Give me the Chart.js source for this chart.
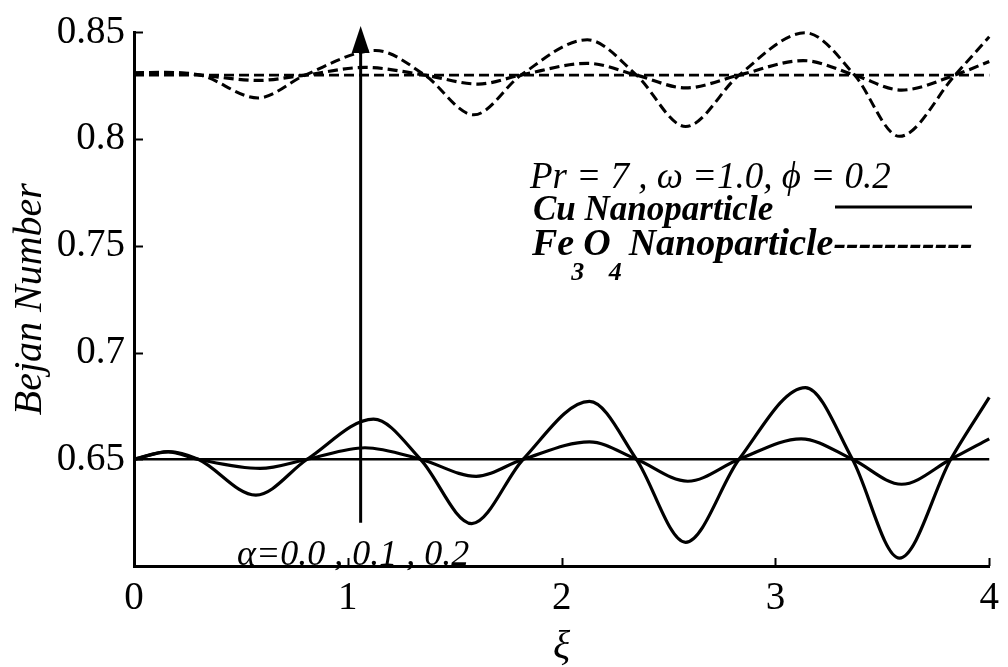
<!DOCTYPE html>
<html>
<head>
<meta charset="utf-8">
<script src="https://cdn.jsdelivr.net/npm/chart.js@4.4.1/dist/chart.umd.min.js"></script>
<style>
  html, body { margin: 0; padding: 0; background: #fff; }
  #wrap { width: 1008px; height: 667px; position: relative; }
</style>
</head>
<body>
<div id="wrap"><canvas id="c" width="1008" height="667"></canvas></div>
<script>
// Axis ticks
const xTickValues = [0, 1, 2, 3, 4];
const yTickValues = [0.65, 0.7, 0.75, 0.8, 0.85];

// Cu nanoparticle, alpha = 0.0 / 0.1 / 0.2  (xi, Bejan number)
const cuXiA0 = [0, 4];
const cuBeA0 = [0.65, 0.65];
const cuXiA1 = [0, 0.16, 0.30, 0.59, 0.81, 1.08, 1.34, 1.60, 1.82, 2.13, 2.35, 2.59, 2.83, 3.12, 3.36, 3.59, 3.82, 4.0];
const cuBeA1 = [0.650, 0.6535, 0.650, 0.6457, 0.650, 0.6554, 0.650, 0.6420, 0.650, 0.6582, 0.650, 0.6397, 0.650, 0.6596, 0.650, 0.6383, 0.650, 0.6596];
const cuXiA2 = [0, 0.16, 0.30, 0.57, 0.81, 1.12, 1.34, 1.58, 1.82, 2.13, 2.35, 2.58, 2.83, 3.14, 3.36, 3.58, 3.82, 4.0];
const cuBeA2 = [0.650, 0.6536, 0.650, 0.6332, 0.650, 0.6688, 0.650, 0.6199, 0.650, 0.6771, 0.650, 0.6111, 0.650, 0.6836, 0.650, 0.6037, 0.650, 0.6790];

// Fe3O4 nanoparticle, alpha = 0.0 / 0.1 / 0.2
const feXiA0 = [0, 4];
const feBeA0 = [0.83, 0.83];
const feXiA1 = [0, 0.15, 0.31, 0.58, 0.80, 1.08, 1.36, 1.61, 1.81, 2.12, 2.35, 2.58, 2.83, 3.13, 3.37, 3.59, 3.84, 4.0];
const feBeA1 = [0.831, 0.8313, 0.830, 0.8275, 0.830, 0.8336, 0.830, 0.8258, 0.830, 0.8355, 0.830, 0.8240, 0.830, 0.8368, 0.830, 0.8230, 0.830, 0.8364];
const feXiA2 = [0, 0.15, 0.31, 0.58, 0.80, 1.13, 1.36, 1.59, 1.81, 2.12, 2.35, 2.58, 2.83, 3.14, 3.37, 3.58, 3.84, 4.0];
const feBeA2 = [0.831, 0.8312, 0.830, 0.8193, 0.830, 0.8415, 0.830, 0.8114, 0.830, 0.8465, 0.830, 0.8059, 0.830, 0.8498, 0.830, 0.8013, 0.830, 0.8480];

// Direction arrow for increasing alpha (xi, from, to)
const arrowXi = 1.06;
const arrowFrom = 0.6203;
const arrowTo = 0.853;

const SERIF = '"Liberation Serif", "Times New Roman", serif';

const pts = (xs, ys) => xs.map((x, i) => ({ x: x, y: ys[i] }));

const solid = (xs, ys, w) => ({
  data: pts(xs, ys), borderColor: '#000', borderWidth: w, pointRadius: 0,
  cubicInterpolationMode: 'monotone', fill: false, clip: false
});
const dashed = (xs, ys, w) => ({
  data: pts(xs, ys), borderColor: '#000', borderWidth: w, pointRadius: 0,
  borderDash: [10, 5], cubicInterpolationMode: 'monotone', fill: false, clip: false
});

const overlay = {
  id: 'overlay',
  afterDraw(chart) {
    const { ctx, scales: { x, y } } = chart;
    ctx.save();
    ctx.strokeStyle = '#000';
    ctx.fillStyle = '#000';

    // inward tick marks
    ctx.lineWidth = 2;
    yTickValues.forEach(v => {
      const py = Math.round(y.getPixelForValue(v)) + 0.5;
      ctx.beginPath(); ctx.moveTo(x.left, py); ctx.lineTo(x.left + 9, py); ctx.stroke();
    });
    xTickValues.forEach(v => {
      const px = Math.round(x.getPixelForValue(v)) + 0.5;
      ctx.beginPath(); ctx.moveTo(px, y.bottom); ctx.lineTo(px, y.bottom - 8); ctx.stroke();
    });

    // arrow
    const ax = x.getPixelForValue(arrowXi);
    const ay0 = y.getPixelForValue(arrowFrom);
    const ay1 = y.getPixelForValue(arrowTo);
    ctx.lineWidth = 3;
    ctx.beginPath(); ctx.moveTo(ax, ay0); ctx.lineTo(ax, ay1 + 20); ctx.stroke();
    ctx.beginPath();
    ctx.moveTo(ax, ay1);
    ctx.lineTo(ax - 9, ay1 + 27);
    ctx.lineTo(ax + 9, ay1 + 27);
    ctx.closePath(); ctx.fill();

    // parameter text and legend
    ctx.textAlign = 'left';
    ctx.textBaseline = 'alphabetic';
    ctx.font = 'italic 37px ' + SERIF;
    ctx.fillText('Pr = 7 , \u03C9 =1.0, \u03D5 = 0.2', 530, 188);

    ctx.font = 'italic bold 35px ' + SERIF;
    ctx.fillText('Cu Nanoparticle', 533, 220);
    ctx.lineWidth = 3;
    ctx.beginPath(); ctx.moveTo(835, 207); ctx.lineTo(972, 207); ctx.stroke();

    let cx = 532;
    const big = 'italic bold 38px ' + SERIF;
    const sub = 'italic bold 26px ' + SERIF;
    ctx.font = big; ctx.fillText('Fe', cx, 255); cx += ctx.measureText('Fe').width - 3;
    ctx.font = sub; ctx.fillText('3', cx, 280); cx += ctx.measureText('3').width - 1;
    ctx.font = big; ctx.fillText('O', cx, 255); cx += ctx.measureText('O').width - 2;
    ctx.font = sub; ctx.fillText('4', cx, 280); cx += ctx.measureText('4').width;
    ctx.font = big; ctx.fillText('Nanoparticle-----------', cx + 7, 255);

    // alpha label
    ctx.font = 'italic 36px ' + SERIF;
    ctx.fillText('\u03B1=0.0 , 0.1 , 0.2', 237, 565);
    ctx.restore();
  }
};

new Chart(document.getElementById('c'), {
  type: 'line',
  data: {
    datasets: [
      solid(cuXiA0, cuBeA0, 2.6), solid(cuXiA1, cuBeA1, 3.2), solid(cuXiA2, cuBeA2, 3.2),
      dashed(feXiA0, feBeA0, 2.6), dashed(feXiA1, feBeA1, 3.2), dashed(feXiA2, feBeA2, 3.0)
    ]
  },
  options: {
    responsive: false,
    animation: false,
    devicePixelRatio: 1,
    layout: { padding: { left: 0, right: 15, top: 24, bottom: 0 } },
    plugins: { legend: { display: false }, tooltip: { enabled: false } },
    scales: {
      x: {
        type: 'linear', min: 0, max: 4,
        afterBuildTicks: s => { s.ticks = xTickValues.map(v => ({ value: v })); },
        afterFit: s => { s.height = 101; },
        ticks: { color: '#000', font: { family: SERIF, size: 39 }, padding: 9, maxRotation: 0,
                 callback: v => String(v) },
        grid: { drawOnChartArea: false, drawTicks: false },
        border: { display: true, color: '#000', width: 3 },
        title: { display: true, text: '\u03BE', color: '#000',
                 font: { family: SERIF, size: 40, style: 'italic' }, padding: { top: 0, bottom: -4 } }
      },
      y: {
        type: 'linear', min: 0.6, max: 0.85,
        afterBuildTicks: s => { s.ticks = yTickValues.map(v => ({ value: v })); },
        afterFit: s => { s.width = 134; },
        ticks: { color: '#000', font: { family: SERIF, size: 39 }, padding: 9,
                 callback: v => String(Number(v.toFixed(2))) },
        grid: { drawOnChartArea: false, drawTicks: false },
        border: { display: true, color: '#000', width: 3 },
        title: { display: true, text: 'Bejan Number', color: '#000',
                 font: { family: SERIF, size: 40, style: 'italic' }, padding: { top: 6, bottom: 0 } }
      }
    }
  },
  plugins: [overlay]
});
</script>
</body>
</html>
